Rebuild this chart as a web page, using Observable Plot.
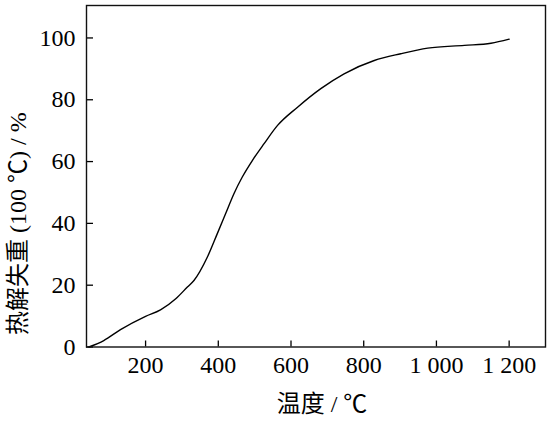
<!DOCTYPE html>
<html>
<head>
<meta charset="utf-8">
<script src="https://cdn.jsdelivr.net/npm/d3@7"></script>
<script src="https://cdn.jsdelivr.net/npm/@observablehq/plot@0.6"></script>
<style>
  html, body { margin: 0; padding: 0; background: #fff; }
</style>
</head>
<body>
<div id="chart"></div>
<script>
// Data
const temperature = [44, 85, 131, 200, 241, 283, 315, 333, 370, 397, 420, 443, 466, 494, 526, 563, 618, 682, 746, 829, 902, 976, 1077, 1150, 1200];
const massLoss    = [0, 2.1, 5.6, 9.9, 12, 15.6, 19.4, 21.5, 29.1, 36.6, 43.1, 49.6, 55, 60.4, 65.8, 71.7, 77.6, 83.6, 88.4, 92.7, 94.9, 96.7, 97.6, 98.3, 99.6];
const xTicks = [200, 400, 600, 800, 1000, 1200];
const xTickLabels = ["200", "400", "600", "800", "1 000", "1 200"];
const yTicks = [0, 20, 40, 60, 80, 100];
const yTickLabels = ["0", "20", "40", "60", "80", "100"];
const xTitle = "温度 / ℃";
const yTitle = "热解失重 (100 ℃) / %";

const data = temperature.map((t, i) => ({t, m: massLoss[i]}));
const xLab = new Map(xTicks.map((d, i) => [d, xTickLabels[i]]));
const yLab = new Map(yTicks.map((d, i) => [d, yTickLabels[i]]));

const FONT = "Liberation Serif, Noto Sans CJK SC, serif";
const W = 552, H = 421;
const mL = 86, mR = 7, mT = 5, mB = 74.5;
const plotW = W - mL - mR, plotH = H - mT - mB;

const chart = Plot.plot({
  width: W,
  height: H,
  marginLeft: mL,
  marginRight: mR,
  marginTop: mT,
  marginBottom: mB,
  style: {fontFamily: FONT, fontSize: "24px", background: "#fff", color: "#000"},
  x: {domain: [37.5, 1300]},
  y: {domain: [0, 110.5]},
  marks: [
    Plot.axisX({ticks: xTicks, tickSize: 0, tickPadding: 9, tickFormat: d => xLab.get(d), label: null, fontSize: 24, fontFamily: FONT}),
    Plot.axisY({ticks: yTicks, tickSize: 0, tickPadding: 11, tickFormat: d => yLab.get(d), label: null, fontSize: 24, fontFamily: FONT}),
    Plot.tickX(xTicks, {x: d => d, insetTop: plotH - 6, stroke: "#000", strokeWidth: 1.3}),
    Plot.tickY(yTicks, {y: d => d, insetRight: plotW - 7, stroke: "#000", strokeWidth: 1.3}),
    Plot.line(data, {x: "t", y: "m", curve: "monotone-x", stroke: "#000", strokeWidth: 1.4}),
    Plot.frame({stroke: "#111", strokeWidth: 1.4}),
    Plot.text([xTitle], {text: d => d, frameAnchor: "bottom", dy: 57, dx: 6, fontSize: 24, fontFamily: FONT, lineAnchor: "middle", fill: "#000"}),
    Plot.text([yTitle], {text: d => d, frameAnchor: "bottom-left", dx: -68, dy: -12, rotate: -90, textAnchor: "start", fontSize: 24, fontFamily: FONT, lineAnchor: "middle", fill: "#000"})
  ]
});
document.getElementById("chart").appendChild(chart);
</script>
</body>
</html>
